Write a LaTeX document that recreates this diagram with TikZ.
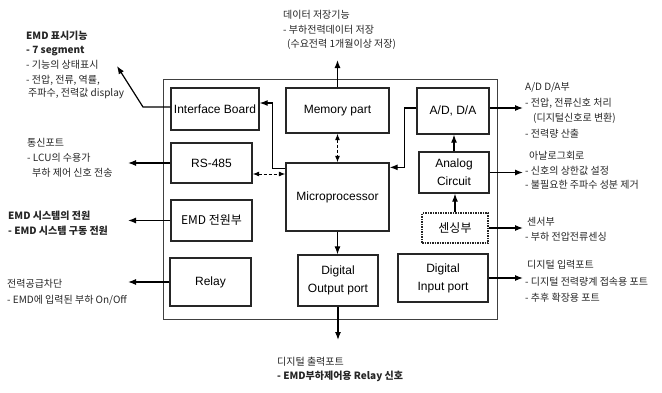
\documentclass[tikz,border=0pt]{standalone}
\usepackage{fontspec}
\setmainfont{Liberation Sans}
\newfontfamily\kr{Noto Sans CJK KR}
\usetikzlibrary{arrows.meta,calc}
\begin{document}
\begin{tikzpicture}[x=1pt,y=-1pt,
 box/.style={draw=black!85,line width=1.3pt,inner sep=0pt,align=center,font=\fontsize{12}{18}\selectfont},
 arr/.style={line width=1.2pt,-{Latex[length=8pt,width=6pt]}},
 darr/.style={line width=1pt,dash pattern=on 3pt off 2pt,{Latex[length=6.5pt,width=5pt]}-{Latex[length=6.5pt,width=5pt]}},
 note/.style={anchor=west,inner sep=0pt,font=\kr\fontsize{10}{12}\selectfont,text=black!85},
 bnote/.style={note,font=\kr\bfseries\fontsize{10}{12}\selectfont},
 ]
\useasboundingbox[fill=white] (0,0) rectangle (662,392);
% outer frame
\draw[black!75,line width=0.9pt] (163,79) rectangle (497,319);
% blocks
\node[box,minimum width=88,minimum height=42] (ib) at (215,109) {Interface Board};
\node[box,minimum width=103,minimum height=45] (mem) at (337.5,110.5) {Memory part};
\node[box,minimum width=72,minimum height=46] (ad) at (453,111) {A/D, D/A};
\node[box,minimum width=81,minimum height=40] (rs) at (211.5,163) {RS-485};
\node[box,minimum width=103,minimum height=68] (mp) at (337.5,197) {Microprocessor};
\node[box,minimum width=70,minimum height=41] (an) at (454,172.5) {Analog\\Circuit};
\node[box,minimum width=81,minimum height=41,font=\kr\fontsize{12}{14}\selectfont] (ep) at (211.5,220.5) {EMD 전원부};
\node[box,dash pattern=on 1.5pt off 1pt,minimum width=66,minimum height=30,font=\kr\fontsize{12}{14}\selectfont] (sn) at (455,228) {센싱부};
\node[box,minimum width=81,minimum height=48] (rl) at (210.5,282) {Relay};
\node[box,minimum width=80,minimum height=51] (dout) at (338,280.5) {Digital\\Output port};
\node[box,minimum width=90,minimum height=48] (din) at (443,278) {Digital\\Input port};
% free ends
\coordinate (ibk) at (143,107);
\coordinate (ibt) at (117,66);
\coordinate (memt) at (337.5,60);
\coordinate (doutb) at (338,340);
\coordinate (adr) at (523,108);
\coordinate (anr) at (523,172.5);
\coordinate (snr) at (523,228);
\coordinate (dinr) at (523,278);
\coordinate (rsl) at (128,163);
\coordinate (epl) at (128,220.5);
\coordinate (rll) at (128,282);
\coordinate (rsa) at ([yshift=-11pt]rs.east);
% internal connectors
\draw[arr] ([yshift=2pt]ib.west) -- (ibk) -- (ibt);
\draw[arr] (mem.north) -- (memt);
\draw[darr] (mem.south) -- (mp.north);
\draw[arr] ([yshift=-6pt]mp.north west) -- ++(-13,0) |- ([yshift=6pt]ib.east);
\draw[darr] (rsa) -- (rsa -| mp.west);
\draw[arr] ([yshift=3pt]ad.west) -- ++(-12,0) |- ([yshift=-5pt]mp.north east);
\draw[arr] (an.north) -- (an.north |- ad.south);
\draw[arr] (sn.north) -- (sn.north |- an.south);
\draw[arr] (mp.south) -- (mp.south |- dout.north);
\draw[arr] (dout.south) -- (doutb);
\draw[arr] ([yshift=3pt]ad.east) -- (adr);
\draw[arr] (an.east) -- (anr);
\draw[arr] (sn.east) -- (snr);
\draw[arr] (din.east) -- (dinr);
\draw[arr] (rs.west) -- (rsl);
\draw[arr] (ep.west) -- (epl);
\draw[arr] (rl.west) -- (rll);
% annotations: top left
\node[bnote] (a1) at (26,36) {EMD 표시기능};
\node[bnote] (a2) at (26,51) {- 7 segment};
\node[note] (a3) at (26,65) {- 기능의 상태표시};
\node[note] (a4) at (26,80) {- 전압, 전류, 역률,};
\node[note] (a5) at (28,94) {주파수, 전력값 display};
% top
\node[note] (b1) at (283,15) {데이터 저장기능};
\node[note] (b2) at (283,30) {- 부하전력데이터 저장};
\node[note] (b3) at (287,44) {(수요전력 1개월이상 저장)};
% A/D
\node[note] (c1) at (525,87) {A/D D/A부};
\node[note] (c2) at (525,103) {- 전압, 전류신호 처리};
\node[note] (c3) at (533,118) {(디지털신호로 변환)};
\node[note] (c4) at (525,134) {- 전력량 산출};
% analog
\node[note] (d1) at (529,156) {아날로그회로};
\node[note] (d2) at (525,171) {- 신호의 상한값 설정};
\node[note] (d3) at (525,185) {- 불필요한 주파수 성분 제거};
% sensor
\node[note] (e1) at (527,222) {센서부};
\node[note] (e2) at (525,237) {- 부하 전압전류센싱};
% digital input
\node[note] (f1) at (527,265) {디지털 입력포트};
\node[note] (f2) at (525,282) {- 디지털 전력량계 접속용 포트};
\node[note] (f3) at (525,298) {- 추후 확장용 포트};
% comm
\node[note] (g1) at (27,143) {통신포트};
\node[note] (g2) at (27,158) {- LCU의 수용가};
\node[note] (g3) at (32,173) {부하 제어 신호 전송};
% power
\node[bnote] (h1) at (8,216) {EMD 시스템의 전원};
\node[bnote] (h2) at (8,231) {- EMD 시스템 구동 전원};
% relay
\node[note] (i1) at (7,284) {전력공급차단};
\node[note] (i2) at (7,300) {- EMD에 입력된 부하 On/Off};
% bottom
\node[note] (j1) at (277,362) {디지털 출력포트};
\node[bnote] (j2) at (277,376) {- EMD부하제어용 Relay 신호};
\end{tikzpicture}
\end{document}
